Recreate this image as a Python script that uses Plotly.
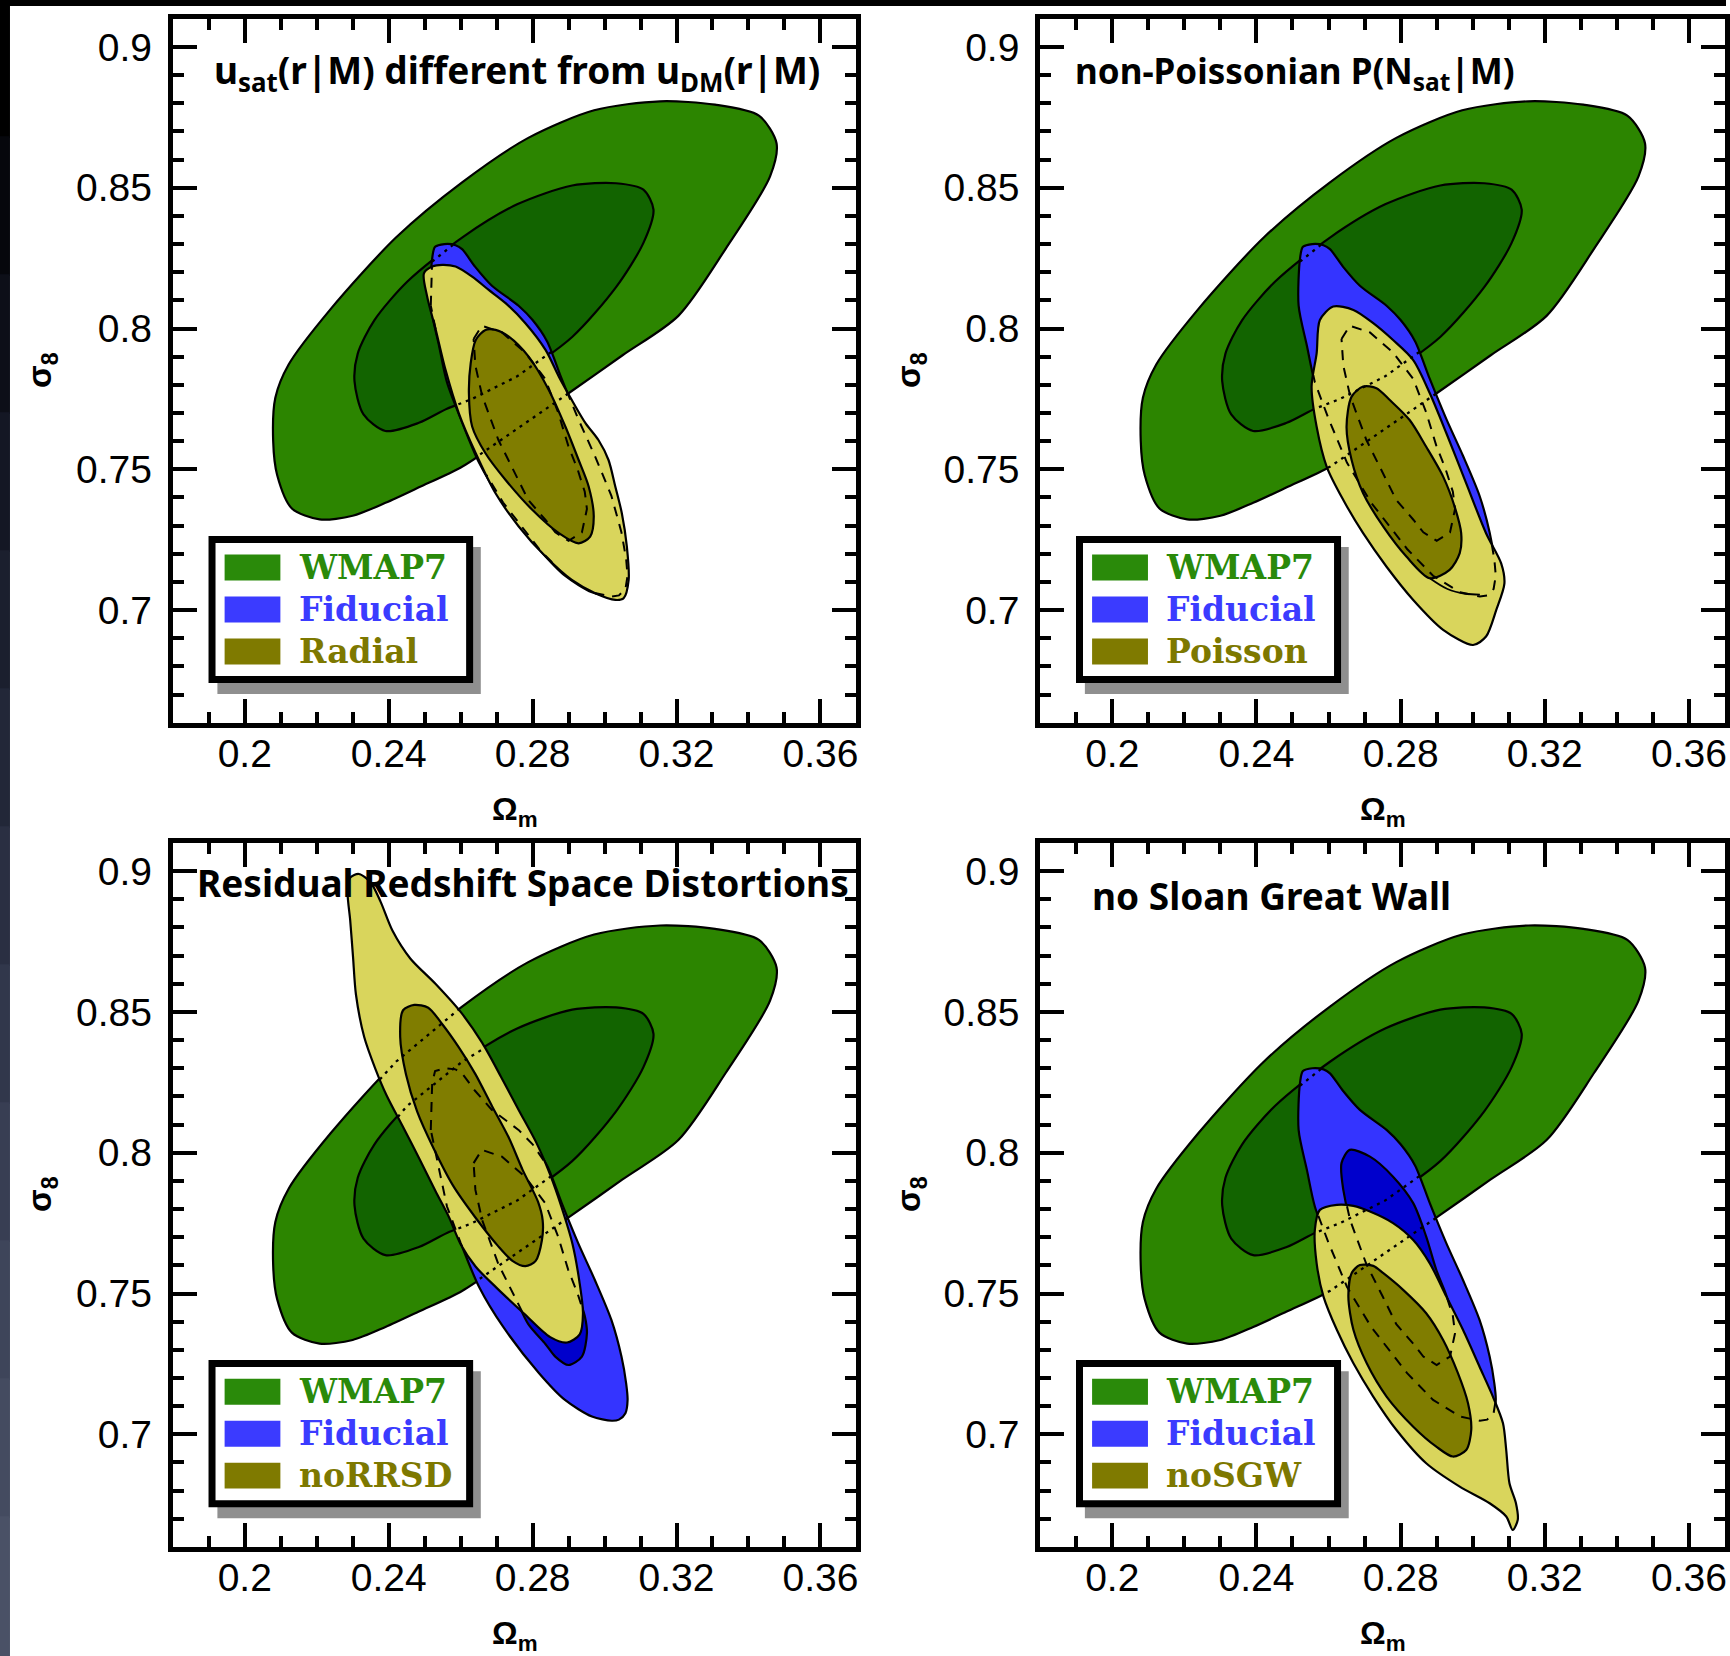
import numpy as np
import plotly.graph_objects as go

W, H = 1730, 1656

# ---------------- data (Omega_m, sigma_8) ----------------
wmap_outer_om = [0.2122, 0.2238, 0.2421, 0.2605, 0.2788, 0.2971, 0.3154, 0.3307, 0.3429, 0.3478, 0.3460,
                 0.3337, 0.3205, 0.3050, 0.2900, 0.2788, 0.2605, 0.2484, 0.2391, 0.2300, 0.2208, 0.2131,
                 0.2090, 0.2079, 0.2085]
wmap_outer_s8 = [0.7872, 0.8068, 0.8324, 0.8520, 0.8677, 0.8775, 0.8807, 0.8795, 0.8756, 0.8658, 0.8540,
                 0.8284, 0.8045, 0.7905, 0.7770, 0.7670, 0.7510, 0.7436, 0.7381, 0.7335, 0.7322, 0.7361,
                 0.7480, 0.7600, 0.7754]

wmap_inner_om = [0.2314, 0.2360, 0.2452, 0.2605, 0.2757, 0.2910, 0.3032, 0.3108, 0.3136, 0.3108, 0.3032,
                 0.2910, 0.2757, 0.2632, 0.2562, 0.2484, 0.2391, 0.2330, 0.2305]
wmap_inner_s8 = [0.7911, 0.8029, 0.8167, 0.8324, 0.8441, 0.8508, 0.8516, 0.8493, 0.8422, 0.8304, 0.8147,
                 0.7970, 0.7830, 0.7750, 0.7715, 0.7665, 0.7636, 0.7695, 0.7813]

fid_outer_om = [0.2517, 0.2521, 0.2529, 0.2555, 0.2586, 0.2604, 0.2640, 0.2687, 0.2761, 0.2800, 0.2840,
                0.2881, 0.2927, 0.2973, 0.3019, 0.3047, 0.3060, 0.3064, 0.3058, 0.3040, 0.3020, 0.2965,
                0.2890, 0.2818, 0.2718, 0.2651, 0.2600, 0.2562, 0.2540]
fid_outer_s8 = [0.8081, 0.8250, 0.8290, 0.8300, 0.8296, 0.8282, 0.8220, 0.8152, 0.8081, 0.8030, 0.7955,
                0.7821, 0.7678, 0.7548, 0.7406, 0.7276, 0.7181, 0.7122, 0.7075, 0.7052, 0.7048, 0.7063,
                0.7122, 0.7217, 0.7382, 0.7524, 0.7680, 0.7809, 0.7939]

fid_inner_om = [0.2636, 0.2659, 0.2715, 0.2779, 0.2835, 0.2871, 0.2899, 0.2925, 0.2945, 0.2951, 0.2937,
                0.2900, 0.2863, 0.2836, 0.2788, 0.2750, 0.2705, 0.2660, 0.2641]
fid_inner_s8 = [0.7963, 0.8010, 0.7986, 0.7915, 0.7821, 0.7702, 0.7584, 0.7500, 0.7420, 0.7359, 0.7276,
                0.7246, 0.7276, 0.7320, 0.7391, 0.7490, 0.7604, 0.7760, 0.7868]

radial_outer_om = [0.2498, 0.2521, 0.2549, 0.2586, 0.2632, 0.2678, 0.2725, 0.2780, 0.2836, 0.2873, 0.2909,
                   0.2947, 0.2983, 0.3011, 0.3030, 0.3048, 0.3062, 0.3067, 0.3053, 0.3030, 0.2974, 0.2909,
                   0.2836, 0.2762, 0.2697, 0.2642, 0.2595, 0.2558, 0.2531, 0.2507]
radial_outer_s8 = [0.8196, 0.8220, 0.8226, 0.8220, 0.8184, 0.8137, 0.8090, 0.8019, 0.7924, 0.7829, 0.7746,
                   0.7664, 0.7604, 0.7533, 0.7438, 0.7344, 0.7225, 0.7107, 0.7042, 0.7036, 0.7060, 0.7107,
                   0.7190, 0.7296, 0.7415, 0.7557, 0.7699, 0.7853, 0.7995, 0.8113]
radial_inner_om = [0.2669, 0.2642, 0.2628, 0.2623, 0.2632, 0.2669, 0.2725, 0.2799, 0.2873, 0.2928, 0.2960,
                   0.2970, 0.2956, 0.2928, 0.2891, 0.2845, 0.2789, 0.2734, 0.2697]
radial_inner_s8 = [0.7995, 0.7959, 0.7877, 0.7770, 0.7652, 0.7557, 0.7462, 0.7356, 0.7273, 0.7237, 0.7261,
                   0.7332, 0.7438, 0.7533, 0.7652, 0.7782, 0.7900, 0.7971, 0.7995]

poisson_outer_om = [0.2613, 0.2669, 0.2724, 0.2779, 0.2835, 0.2881, 0.2927, 0.2982, 0.3037, 0.3079, 0.3088,
                    0.3065, 0.3037, 0.3001, 0.2918, 0.2835, 0.2761, 0.2696, 0.2641, 0.2595, 0.2567, 0.2553,
                    0.2567, 0.2576]
poisson_outer_s8 = [0.8078, 0.8066, 0.8019, 0.7959, 0.7888, 0.7770, 0.7628, 0.7450, 0.7273, 0.7166, 0.7095,
                    0.6999, 0.6906, 0.6876, 0.6930, 0.7036, 0.7154, 0.7273, 0.7391, 0.7509, 0.7651, 0.7794,
                    0.7912, 0.8030]
poisson_inner_om = [0.2696, 0.2733, 0.2770, 0.2825, 0.2871, 0.2918, 0.2950, 0.2968, 0.2964, 0.2936, 0.2881,
                    0.2816, 0.2752, 0.2696, 0.2664, 0.2650, 0.2664]
poisson_inner_s8 = [0.7794, 0.7788, 0.7746, 0.7675, 0.7580, 0.7474, 0.7367, 0.7273, 0.7202, 0.7143, 0.7113,
                    0.7190, 0.7296, 0.7415, 0.7533, 0.7651, 0.7758]
poisson_arc_om = [0.2881, 0.2930, 0.2980, 0.3020]
poisson_arc_s8 = [0.7113, 0.7075, 0.7058, 0.7055]

norrsd_outer_om = [0.2293, 0.2317, 0.2350, 0.2378, 0.2410, 0.2460, 0.2530, 0.2600, 0.2660, 0.2712, 0.2762,
                   0.2811, 0.2849, 0.2880, 0.2911, 0.2930, 0.2940, 0.2931, 0.2896, 0.2849, 0.2776, 0.2700,
                   0.2642, 0.2600, 0.2568, 0.2530, 0.2486, 0.2440, 0.2394, 0.2363, 0.2332, 0.2309, 0.2301,
                   0.2293, 0.2286]
norrsd_outer_s8 = [0.8977, 0.8990, 0.8960, 0.8890, 0.8790, 0.8690, 0.8600, 0.8500, 0.8390, 0.8270, 0.8150,
                   0.8034, 0.7921, 0.7808, 0.7675, 0.7543, 0.7430, 0.7355, 0.7326, 0.7345, 0.7429, 0.7520,
                   0.7595, 0.7675, 0.7770, 0.7864, 0.7977, 0.8091, 0.8204, 0.8298, 0.8411, 0.8562, 0.8694,
                   0.8826, 0.8921]
norrsd_inner_om = [0.2471, 0.2440, 0.2432, 0.2448, 0.2479, 0.2525, 0.2579, 0.2641, 0.2703, 0.2745, 0.2780,
                   0.2808, 0.2826, 0.2828, 0.2815, 0.2772, 0.2734, 0.2687, 0.2641, 0.2595, 0.2548, 0.2510]
norrsd_inner_s8 = [0.8525, 0.8506, 0.8411, 0.8279, 0.8147, 0.8015, 0.7883, 0.7770, 0.7670, 0.7615, 0.7597,
                   0.7615, 0.7690, 0.7760, 0.7826, 0.7940, 0.8053, 0.8166, 0.8279, 0.8374, 0.8458, 0.8515]

nosgw_outer_om = [0.2623, 0.2669, 0.2715, 0.2779, 0.2835, 0.2881, 0.2927, 0.2973, 0.3019, 0.3056, 0.3084,
                  0.3093, 0.3102, 0.3120, 0.3125, 0.3111, 0.3093, 0.3047, 0.2964, 0.2871, 0.2788, 0.2724,
                  0.2669, 0.2623, 0.2586, 0.2567, 0.2562, 0.2576]
nosgw_outer_s8 = [0.7815, 0.7811, 0.7791, 0.7750, 0.7690, 0.7607, 0.7489, 0.7371, 0.7240, 0.7134, 0.7039,
                  0.6944, 0.6826, 0.6755, 0.6696, 0.6660, 0.6708, 0.6755, 0.6814, 0.6897, 0.7016, 0.7134,
                  0.7252, 0.7371, 0.7489, 0.7607, 0.7726, 0.7797]
nosgw_inner_om = [0.2687, 0.2724, 0.2752, 0.2807, 0.2871, 0.2918, 0.2959, 0.2987, 0.2996, 0.2982, 0.2945,
                  0.2899, 0.2835, 0.2761, 0.2706, 0.2669, 0.2655, 0.2664]
nosgw_inner_s8 = [0.7601, 0.7598, 0.7572, 0.7513, 0.7430, 0.7335, 0.7217, 0.7110, 0.7016, 0.6944, 0.6921,
                  0.6956, 0.7027, 0.7134, 0.7252, 0.7371, 0.7489, 0.7572]

panel_titles = ["u<sub>sat</sub>(r|M) different from u<sub>DM</sub>(r|M)",
                "non-Poissonian P(N<sub>sat</sub>|M)",
                "Residual Redshift Space Distortions",
                "no Sloan Great Wall"]
legend_labels = ["WMAP7", "Fiducial"]
model_labels = ["Radial", "Poisson", "noRRSD", "noSGW"]

x_tick_vals = [0.2, 0.24, 0.28, 0.32, 0.36]
x_tick_text = ["0.2", "0.24", "0.28", "0.32", "0.36"]
y_tick_vals = [0.7, 0.75, 0.8, 0.85, 0.9]
y_tick_text = ["0.7", "0.75", "0.8", "0.85", "0.9"]

models = [
    (radial_outer_om, radial_outer_s8, radial_inner_om, radial_inner_s8),
    (poisson_outer_om, poisson_outer_s8, poisson_inner_om, poisson_inner_s8),
    (norrsd_outer_om, norrsd_outer_s8, norrsd_inner_om, norrsd_inner_s8),
    (nosgw_outer_om, nosgw_outer_s8, nosgw_inner_om, nosgw_inner_s8),
]

# ---------------- styling ----------------
C_WOUT, C_WIN = "#2c8500", "#126400"
C_FOUT, C_FIN = "#3434ff", "#0000cc"
C_MOUT, C_MIN = "#d9d55c", "#807d00"
LEG_TXT = ["#2a8a0a", "#3b3bff", "#7d7800"]
LEG_SW = ["#2a8a0a", "#3b3bff", "#7f7a00"]

XR = [0.18, 0.37]
YR = [0.66, 0.91]
xdoms = [[173.2 / W, 858.4 / W], [1042.6 / W, 1729.0 / W]]
ydoms = [[1 - 722.7 / H, 1 - 18.8 / H], [1 - 1546.9 / H, 1 - 843.0 / H]]


# ---------------- geometry helpers (clip contour lines to regions) ----------------
def _seg_ts(p0, p1, poly):
    ts = []
    n = len(poly)
    d = p1 - p0
    for i in range(n):
        a = poly[i]
        b = poly[(i + 1) % n]
        e = b - a
        den = d[0] * e[1] - d[1] * e[0]
        if abs(den) < 1e-18:
            continue
        w = a - p0
        t = (w[0] * e[1] - w[1] * e[0]) / den
        u = (w[0] * d[1] - w[1] * d[0]) / den
        if 0 < t < 1 and 0 <= u <= 1:
            ts.append(t)
    return ts


def _inside(p, poly):
    x, y = p
    ins = False
    n = len(poly)
    for i in range(n):
        x1, y1 = poly[i]
        x2, y2 = poly[(i + 1) % n]
        if (y1 > y) != (y2 > y):
            xi = x1 + (y - y1) * (x2 - x1) / (y2 - y1)
            if x < xi:
                ins = not ins
    return ins


def clip_closed(cx, cy, polys):
    pts = np.column_stack([cx, cy]).astype(float)
    pts = np.vstack([pts, pts[:1]])
    polys = [np.column_stack(p).astype(float) for p in polys]
    xs, ys = [], []
    prev = False
    for k in range(len(pts) - 1):
        p0, p1 = pts[k], pts[k + 1]
        ts = [0.0, 1.0]
        for pl in polys:
            ts += _seg_ts(p0, p1, pl)
        ts = sorted(ts)
        for ta, tb in zip(ts[:-1], ts[1:]):
            if tb - ta < 1e-9:
                continue
            m = p0 + 0.5 * (ta + tb) * (p1 - p0)
            if any(_inside(m, pl) for pl in polys):
                a = p0 + ta * (p1 - p0)
                b = p0 + tb * (p1 - p0)
                if not prev:
                    xs += [None, a[0]]
                    ys += [None, a[1]]
                xs.append(b[0])
                ys.append(b[1])
                prev = True
            else:
                prev = False
    return xs, ys


def closed(a):
    return list(a) + [a[0]]


fig = go.Figure()


def fill_trace(om, s8, color, ax):
    return go.Scatter(x=closed(om), y=closed(s8), mode="lines", fill="toself", fillcolor=color,
                      line=dict(color="black", width=2.2, shape="spline", smoothing=0.8),
                      xaxis=ax[0], yaxis=ax[1], hoverinfo="skip", showlegend=False)


for i in range(4):
    axn = "" if i == 0 else str(i + 1)
    ax = ("x" + axn, "y" + axn)
    mo_om, mo_s8, mi_om, mi_s8 = models[i]
    fig.add_trace(fill_trace(wmap_outer_om, wmap_outer_s8, C_WOUT, ax))
    fig.add_trace(fill_trace(wmap_inner_om, wmap_inner_s8, C_WIN, ax))
    fig.add_trace(fill_trace(fid_outer_om, fid_outer_s8, C_FOUT, ax))
    fig.add_trace(fill_trace(fid_inner_om, fid_inner_s8, C_FIN, ax))
    fig.add_trace(fill_trace(mo_om, mo_s8, C_MOUT, ax))
    fig.add_trace(fill_trace(mi_om, mi_s8, C_MIN, ax))
    if i == 1:
        fig.add_trace(go.Scatter(x=poisson_arc_om, y=poisson_arc_s8, mode="lines",
                                 line=dict(color="black", width=1.8, shape="spline"),
                                 xaxis=ax[0], yaxis=ax[1], hoverinfo="skip", showlegend=False))
    # dotted WMAP7 contours where they pass under the Fiducial / model regions
    covers = [(fid_outer_om, fid_outer_s8), (mo_om, mo_s8)]
    for com, cs8 in [(wmap_outer_om, wmap_outer_s8), (wmap_inner_om, wmap_inner_s8)]:
        xs, ys = clip_closed(com, cs8, covers)
        fig.add_trace(go.Scatter(x=xs, y=ys, mode="lines", connectgaps=False,
                                 line=dict(color="black", width=2.3, dash="3px,5px"),
                                 xaxis=ax[0], yaxis=ax[1], hoverinfo="skip", showlegend=False))
    # dashed Fiducial contours where they pass under the model region
    for com, cs8 in [(fid_outer_om, fid_outer_s8), (fid_inner_om, fid_inner_s8)]:
        xs, ys = clip_closed(com, cs8, [(mo_om, mo_s8)])
        fig.add_trace(go.Scatter(x=xs, y=ys, mode="lines", connectgaps=False,
                                 line=dict(color="black", width=2, dash="10px,8px"),
                                 xaxis=ax[0], yaxis=ax[1], hoverinfo="skip", showlegend=False))

layout = dict(width=W, height=H, margin=dict(l=0, r=0, t=0, b=0), autosize=False,
              paper_bgcolor="white", plot_bgcolor="white", showlegend=False)

tickfont = dict(family="Liberation Sans, Arial, sans-serif", size=39, color="black")
for i in range(4):
    axn = "" if i == 0 else str(i + 1)
    col, row = i % 2, i // 2
    layout["xaxis" + axn] = dict(domain=xdoms[col], anchor="y" + axn, range=XR, showgrid=False,
                                 zeroline=False, showline=True, linewidth=5, linecolor="black",
                                 mirror="allticks", ticks="inside", ticklen=24, tickwidth=4,
                                 tickcolor="black", tickvals=x_tick_vals, ticktext=x_tick_text,
                                 tickfont=tickfont, ticklabelstandoff=-8,
                                 minor=dict(dtick=0.01, tick0=0.18, ticks="inside", ticklen=11,
                                            tickwidth=4, tickcolor="black", showgrid=False))
    layout["yaxis" + axn] = dict(domain=ydoms[row], anchor="x" + axn, range=YR, showgrid=False,
                                 zeroline=False, showline=True, linewidth=5, linecolor="black",
                                 mirror="allticks", ticks="inside", ticklen=24, tickwidth=4,
                                 tickcolor="black", tickvals=y_tick_vals, ticktext=y_tick_text,
                                 tickfont=tickfont, ticklabelstandoff=8,
                                 minor=dict(dtick=0.01, tick0=0.66, ticks="inside", ticklen=11,
                                            tickwidth=4, tickcolor="black", showgrid=False))
fig.update_layout(**layout)

shapes = []
annotations = []

# dark slide frame (top bar and left strip)
shapes.append(dict(type="rect", xref="paper", yref="paper", x0=0, x1=1, y0=1 - 6 / H, y1=1,
                   fillcolor="black", line=dict(width=0), layer="above"))
strip_cols = ["#000000", "#06070c", "#0d0f18", "#141724", "#1b1f2e", "#222738", "#2a2f42",
              "#31374b", "#383e53", "#3e455a", "#444b60", "#4a5166"]
n = len(strip_cols)
for k, c in enumerate(strip_cols):
    shapes.append(dict(type="rect", xref="paper", yref="paper", x0=0, x1=10 / W,
                       y0=1 - (k + 1) / n, y1=1 - k / n + 0.001, fillcolor=c, line=dict(width=0),
                       layer="above"))

title_pos = [(0.1910, 0.8911), (0.1892, 0.8911), (0.1863, 0.8958), (0.1939, 0.8915)]
title_size = [37, 35, 37, 37]
for i in range(4):
    axn = "" if i == 0 else str(i + 1)
    xr, yr = "x" + axn, "y" + axn
    # legend box with drop shadow
    shapes.append(dict(type="rect", xref=xr, yref=yr, x0=0.1924, x1=0.2656, y0=0.6702, y1=0.7224,
                       fillcolor="#8f8f8f", line=dict(width=0), layer="above"))
    shapes.append(dict(type="rect", xref=xr, yref=yr, x0=0.1909, x1=0.2625, y0=0.6753, y1=0.7251,
                       fillcolor="white", line=dict(color="black", width=7), layer="above"))
    labels = legend_labels + [model_labels[i]]
    for k, yc in enumerate([0.7151, 0.7002, 0.6853]):
        shapes.append(dict(type="rect", xref=xr, yref=yr, x0=0.1944, x1=0.2099,
                           y0=yc - 0.0046, y1=yc + 0.0046, fillcolor=LEG_SW[k],
                           line=dict(width=0), layer="above"))
        annotations.append(dict(xref=xr, yref=yr, x=0.2144, y=yc, xanchor="left", yanchor="middle",
                                text="<b>%s</b>" % labels[k], showarrow=False,
                                font=dict(family="DejaVu Serif", size=33, color=LEG_TXT[k])))
    tx, ty = title_pos[i]
    annotations.append(dict(xref=xr, yref=yr, x=tx, y=ty, xanchor="left", yanchor="middle",
                            text="<b>%s</b>" % panel_titles[i], showarrow=False,
                            font=dict(family="Noto Sans", size=title_size[i], color="black")))

# axis titles
for i in range(4):
    col, row = i % 2, i // 2
    sx = [42, 913][col]
    sy = [370, 1194][row]
    annotations.append(dict(xref="paper", yref="paper", x=sx / W, y=1 - sy / H,
                            text="<b>σ<sub>8</sub></b>",
                            textangle=-90, showarrow=False, xanchor="center", yanchor="middle",
                            font=dict(family="Liberation Sans", size=33, color="black")))
    ox = [515.8, 1386.0][col]
    oy = [811, 1635][row]
    annotations.append(dict(xref="paper", yref="paper", x=ox / W, y=1 - oy / H,
                            text="<b>Ω<sub>m</sub></b>",
                            showarrow=False, xanchor="center", yanchor="middle",
                            font=dict(family="Liberation Sans", size=32, color="black")))

fig.update_layout(shapes=shapes, annotations=annotations)
fig.write_html("out.html")
